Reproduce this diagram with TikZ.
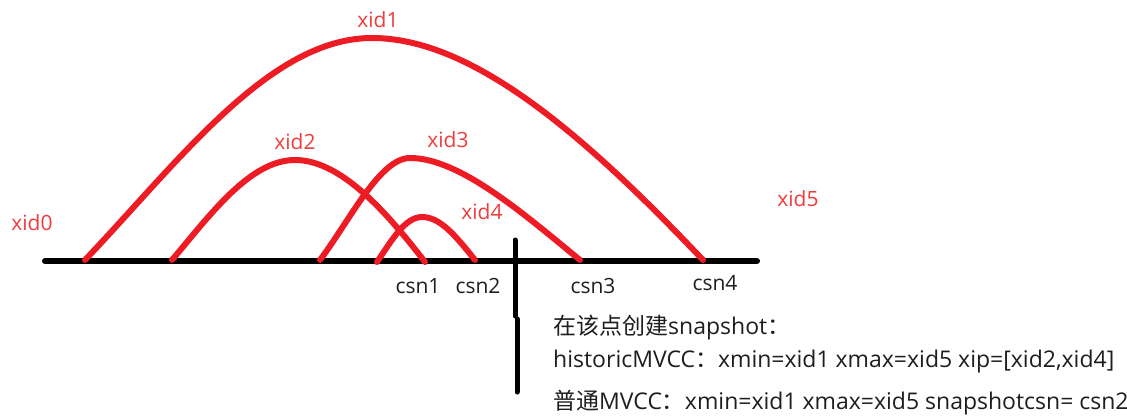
\documentclass[tikz,border=0pt]{standalone}
\usepackage{fontspec}
\setmainfont{Open Sans}
\newfontfamily\cjk{Noto Sans CJK SC}
\definecolor{arcred}{RGB}{237,28,36}
\definecolor{labred}{RGB}{240,60,60}
\definecolor{txt}{RGB}{30,30,30}
\begin{document}
\begin{tikzpicture}[x=1pt,y=-1pt,
  arc/.style={draw=arcred,line width=6pt,line cap=round},
  axis/.style={draw=black,line width=6pt,line cap=round},
  xlab/.style={text=labred,font=\fontsize{21}{24}\selectfont,inner sep=0pt},
  clab/.style={text=txt,font=\fontsize{21}{24}\selectfont,inner sep=0pt},
  note/.style={text=txt,font=\fontsize{23}{26}\selectfont,inner sep=0pt,anchor=west}]
\useasboundingbox (0,0) rectangle (1127,417);
% axis
\coordinate (L) at (45,261);
\coordinate (R) at (757,261);
\draw[axis] (L) -- (R);
\coordinate (V1) at (515,240);
\coordinate (V2) at (515,316);
\coordinate (V3) at (517,319);
\coordinate (V4) at (517,392);
\draw[axis,line width=5pt] (V1) -- (V2);
\draw[axis,line width=5pt] (V3) -- (V4);
% arcs
\coordinate (a1s) at (85,260); \coordinate (a1p) at (372,38); \coordinate (a1e) at (703,260);
\draw[arc] (a1s) .. controls (180,160) and (270,38) .. (a1p) .. controls (470,38) and (580,130) .. (a1e);
\coordinate (a2s) at (172,260); \coordinate (a2p) at (295,160); \coordinate (a2e) at (425,262);
\draw[arc] (a2s) .. controls (210,215) and (250,160) .. (a2p) .. controls (340,160) and (385,210) .. (a2e);
\coordinate (a3s) at (320,260); \coordinate (a3p) at (410,158); \coordinate (a3e) at (580,260);
\draw[arc] (a3s) .. controls (350,220) and (380,158) .. (a3p) .. controls (460,158) and (525,215) .. (a3e);
\coordinate (a4s) at (377,262); \coordinate (a4p) at (422,217); \coordinate (a4e) at (475,260);
\draw[arc] (a4s) .. controls (392,240) and (405,217) .. (a4p) .. controls (440,217) and (455,235) .. (a4e);
% labels
\node[xlab] (x0) at (32,223) {xid0};
\node[xlab] (x1) at (378,20) {xid1};
\node[xlab] (x2) at (295,142) {xid2};
\node[xlab] (x3) at (448,140) {xid3};
\node[xlab] (x4) at (482,212) {xid4};
\node[xlab] (x5) at (798,199) {xid5};
\node[clab] (c1) at (418,286) {csn1};
\node[clab] (c2) at (478,286) {csn2};
\node[clab] (c3) at (593,286) {csn3};
\node[clab] (c4) at (715,283) {csn4};
\node[note] (n1) at (553,328) {{\cjk 在该点创建}snapshot{\cjk ：}};
\node[note] (n2) at (553,362) {historicMVCC{\cjk ：}xmin=xid1 xmax=xid5 xip=[xid2,xid4]};
\node[note] (n3) at (553,403) {{\cjk 普通}MVCC{\cjk ：}xmin=xid1 xmax=xid5 snapshotcsn= csn2};
\end{tikzpicture}
\end{document}
